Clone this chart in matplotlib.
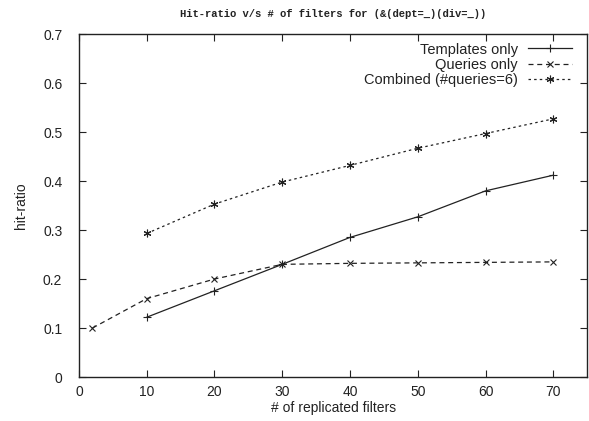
import matplotlib
matplotlib.use("Agg")
import matplotlib.pyplot as plt

x_templates = [10, 20, 30, 40, 50, 60, 70]
y_templates = [0.122, 0.176, 0.230, 0.285, 0.327, 0.380, 0.412]
x_queries = [2, 10, 20, 30, 40, 50, 60, 70]
y_queries = [0.100, 0.160, 0.200, 0.230, 0.232, 0.233, 0.234, 0.235]
x_combined = [10, 20, 30, 40, 50, 60, 70]
y_combined = [0.293, 0.353, 0.398, 0.432, 0.467, 0.497, 0.527]
x_ticks = [0, 10, 20, 30, 40, 50, 60, 70]
y_ticks = [0, 0.1, 0.2, 0.3, 0.4, 0.5, 0.6, 0.7]
y_ticklabels = ["0", "0.1", "0.2", "0.3", "0.4", "0.5", "0.6", "0.7"]

plt.rcParams['font.family'] = ['Liberation Sans', 'DejaVu Sans']
fig = plt.figure(figsize=(5.89, 4.21), dpi=100)
ax = fig.add_axes([0.134, 0.1045, 0.863, 0.8145])

col = '#222222'
ax.plot(x_templates, y_templates, '-', color=col, lw=0.9, marker='+', ms=5.5, mew=0.8, label='Templates only')
ax.plot(x_queries, y_queries, color=col, lw=0.9, ls=(0, (4, 3)), marker='x', ms=4.5, mew=0.8, label='Queries only')
ax.plot(x_combined, y_combined, color=col, lw=0.9, ls=(0, (2, 2.5)), marker=(6, 2, 0), ms=5.5, mew=0.8, label='Combined (#queries=6)')

ax.set_xlim(0, 75)
ax.set_ylim(0, 0.7)
ax.set_xticks(x_ticks)
ax.set_yticks(y_ticks)
ax.set_yticklabels(y_ticklabels)
ax.tick_params(direction='in', top=True, right=True, length=5, width=0.8, labelsize=10, color=col, labelcolor=col)
ax.tick_params(axis='x', pad=6)
ax.tick_params(axis='y', pad=12)
for s in ax.spines.values():
    s.set_linewidth(1.0)
    s.set_color(col)

ax.set_xlabel('# of replicated filters', fontsize=10, color=col, labelpad=1)
ax.set_ylabel('hit-ratio', fontsize=10, color=col, labelpad=11)
fig.text(0.566, 0.967, 'Hit-ratio v/s # of filters for (&(dept=_)(div=_))', ha='center', va='center',
         family=['Liberation Mono', 'DejaVu Sans Mono'], fontweight='bold', fontsize=7.6, color=col)

leg = ax.legend(loc='upper right', markerfirst=False, frameon=False, fontsize=10.5, handlelength=3.0,
                handletextpad=0.7, labelspacing=0.08, borderaxespad=0.3, bbox_to_anchor=(0.99, 1.005))
for t in leg.get_texts():
    t.set_color(col)

fig.savefig('out.png', dpi=100)
